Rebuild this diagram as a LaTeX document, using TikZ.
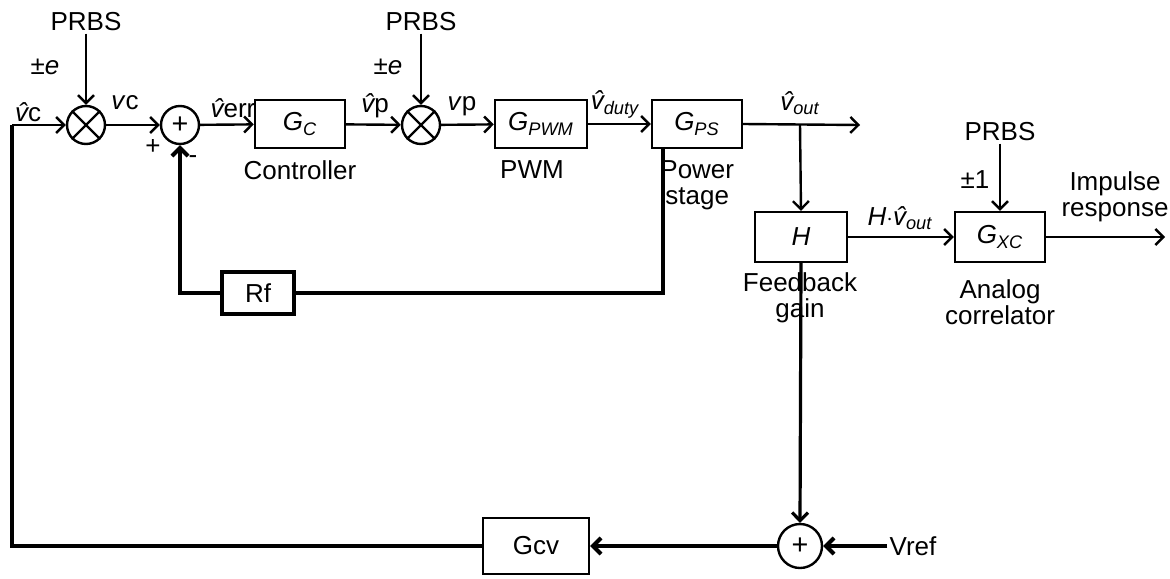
\documentclass[tikz,border=0pt]{standalone}
\usepackage{fontspec}
\setmainfont{Liberation Sans}
\usepackage{tikz}
\usetikzlibrary{arrows.meta, positioning}

\newcommand{\vh}{{\itshape\^{v}}}
\newcommand{\sub}[1]{\textsubscript{\itshape #1}}

\begin{document}
\begin{tikzpicture}[
    x=0.5pt, y=-0.5pt,
    font=\fontsize{13}{15}\selectfont,
    >={Straight Barb[length=4pt,width=8pt]},
    block/.style={draw, rectangle, line width=1.2pt, minimum width=45pt,
      minimum height=24pt, align=center},
    junc/.style={draw, circle, line width=1.2pt, minimum size=19pt, inner sep=0pt},
    arrow/.style={line width=1.2pt,->},
    fb/.style={line width=2pt},
    lbl/.style={inner sep=1pt, align=center}
]
\useasboundingbox (0,0) rectangle (1170,578);
% forward path
\node[junc] (mulA) at (86,125) {};
\draw[line width=1.2pt] (mulA.north east) -- (mulA.south west) (mulA.north west) -- (mulA.south east);
\node[junc, font=\Large] (sumA) at (180,125) {+};
\node[block] (gc) at (300,124) {\textit{G}\sub{C}};
\node[junc] (mulB) at (421,125) {};
\draw[line width=1.2pt] (mulB.north east) -- (mulB.south west) (mulB.north west) -- (mulB.south east);
\node[block, minimum width=46pt] (gpwm) at (541,124) {\textit{G}\sub{PWM}};
\node[block] (gps) at (697,124) {\textit{G}\sub{PS}};
\node[block, minimum width=46pt, minimum height=25pt] (h) at (801,237) {\textit{H}};
\node[block, minimum height=25pt] (gxc) at (1000,237) {\textit{G}\sub{XC}};
\node[block, fb, minimum width=36pt, minimum height=21pt] (rf) at (258,293) {Rf};
\node[block, minimum width=53pt, minimum height=28pt] (gcv) at (536,546) {Gcv};
\node[junc, minimum size=22pt, font=\Large] (sumB) at (800,546) {+};

% PRBS sources
\node[lbl] (prbsA) at (86,22) {PRBS};
\node[lbl] (prbsB) at (421,22) {PRBS};
\node[lbl] (prbsC) at (1000,132) {PRBS};
\node[lbl] at (45,67) {±\textit{e}};
\node[lbl] at (388,67) {±\textit{e}};
\node[lbl] at (975,180) {±1};
\node[lbl] (vref) at (913,546) {Vref};

% signal labels
\node[lbl] at (28,112) {\vh c};
\node[lbl] at (125,103) {\textit{v}c};
\node[lbl] at (153,147) {+};
\node[lbl] at (193,160) {-};
\node[lbl] at (233,108) {\vh err};
\node[lbl] at (375,106) {\vh p};
\node[lbl] at (462,106) {\textit{v}p};
\node[lbl] at (615,104) {\vh\sub{duty}};
\node[lbl] at (800,103) {\vh\sub{out}};
\node[lbl] at (900,218) {\textit{H}$\cdot$\vh\sub{out}};
\node[lbl] at (300,170) {Controller};
\node[lbl] at (532,170) {PWM};
\node[lbl, anchor=north west] at (658,158) {Power\\[-2pt]stage};
\node[lbl] at (800,298) {Feedback\\[-2pt]gain};
\node[lbl] at (1000,302) {Analog\\[-2pt]correlator};
\node[lbl] at (1115,197) {Impulse\\[-2pt]response};

\coordinate (inC) at (12,125);
\coordinate (tap) at (800,125);
\coordinate (outA) at (860,125);
\coordinate (outB) at (1165,237);
\coordinate (psTap) at (663,147);

\draw[arrow] (prbsA) -- (mulA.north);
\draw[arrow] (prbsB) -- (mulB.north);
\draw[arrow] (prbsC) -- (gxc.north);
\draw[arrow] (inC) -- (mulA.west);
\draw[arrow] (mulA) -- (sumA);
\draw[arrow] (sumA) -- (gc);
\draw[arrow] (gc) -- (mulB);
\draw[arrow] (mulB) -- (gpwm);
\draw[arrow] (gpwm) -- (gps);
\draw[arrow] (gps.east) -- (outA);
\draw[arrow] (tap) -- (h.north);
\draw[arrow] (h) -- (gxc);
\draw[arrow] (gxc.east) -- (outB);
% feedback loops
\draw[fb] (psTap) |- (rf.east);
\draw[fb,->] (rf.west) -| (sumA.south);
\draw[line width=1.6pt,->] (h.south) -- (sumB.north);
\draw[fb,->] (vref.west) -- (sumB.east);
\draw[fb,->] (sumB.west) -- (gcv.east);
\draw[fb] (gcv.west) -| (inC);
\end{tikzpicture}
\end{document}
